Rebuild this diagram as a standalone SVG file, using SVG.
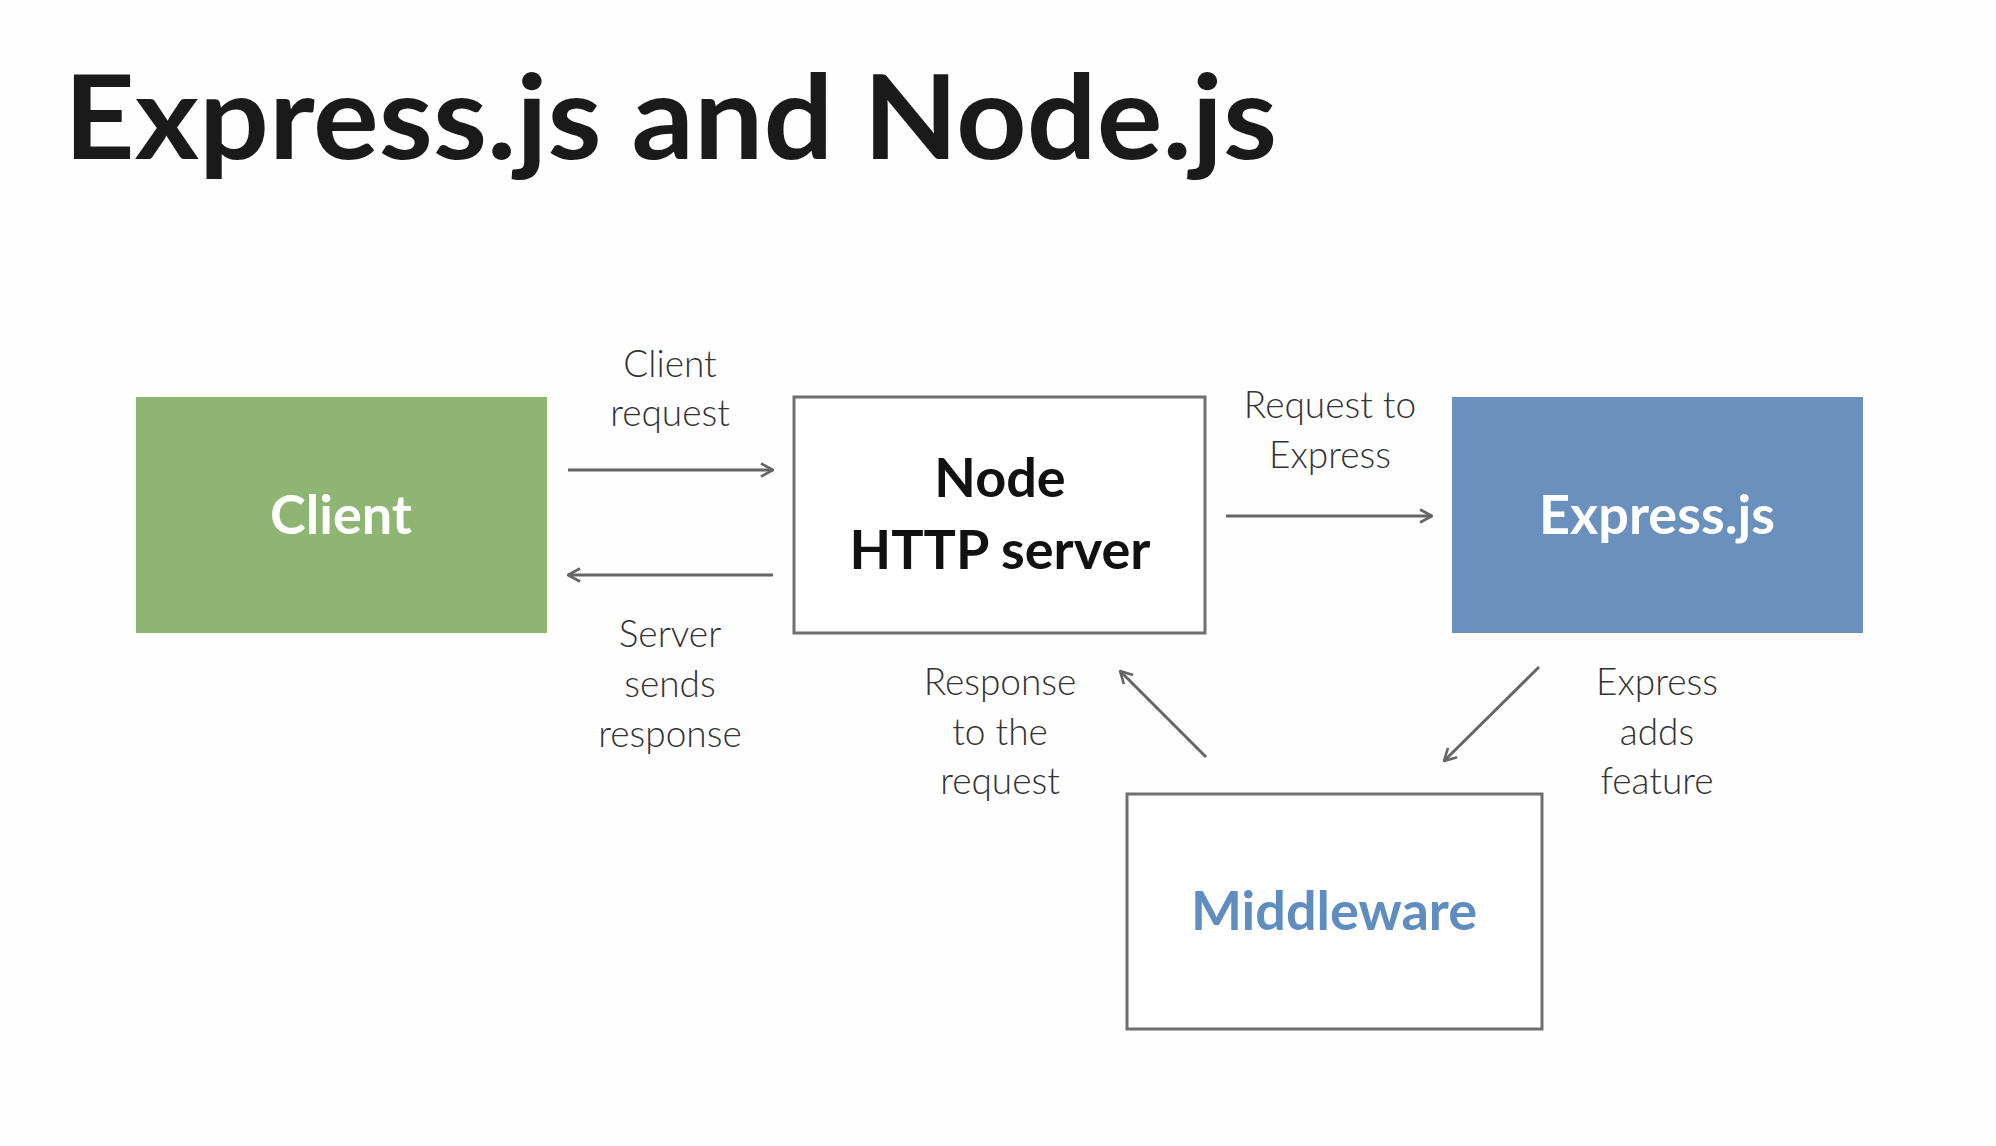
<svg xmlns="http://www.w3.org/2000/svg" width="1996" height="1146" viewBox="0 0 1996 1146">
<defs>
<style>
.title{font-family:Lato,"Open Sans","Liberation Sans",sans-serif;font-weight:700;font-size:116px;fill:#1a1a1a}
.nodeT{font-family:Lato,"Open Sans","Liberation Sans",sans-serif;font-weight:700;font-size:54px;text-anchor:middle}
.lbl{font-family:Lato,"Open Sans","Liberation Sans",sans-serif;font-weight:300;font-size:37px;fill:#333;text-anchor:middle}
.conn{stroke:#666;stroke-width:3;fill:none;marker-end:url(#ah)}
.box{stroke:#6f6f6f;stroke-width:3;fill:#fff}
</style>
<marker id="ah" viewBox="0 0 16 16" refX="15" refY="8" markerWidth="16" markerHeight="16" markerUnits="userSpaceOnUse" orient="auto">
<path d="M3,1.5 L15,8 L3,14.5" fill="none" stroke="#666" stroke-width="2.6"/>
</marker>
</defs>
<rect width="1996" height="1146" fill="#fefefe"/>
<text class="title" x="64" y="159" textLength="1213" lengthAdjust="spacingAndGlyphs">Express.js and Node.js</text>

<g id="client">
<rect x="136" y="397" width="411" height="236" fill="#8fb573"/>
<text class="nodeT" x="341" y="534" fill="#fff">Client</text>
</g>
<g id="node-http-server">
<rect class="box" x="794" y="397" width="411" height="236"/>
<text class="nodeT" x="1000" y="497" fill="#111">Node</text>
<text class="nodeT" x="1000" y="569" fill="#111">HTTP server</text>
</g>
<g id="expressjs">
<rect x="1452" y="397" width="411" height="236" fill="#6a91bd"/>
<text class="nodeT" x="1657" y="534" fill="#fff">Express.js</text>
</g>
<g id="middleware">
<rect class="box" x="1127" y="794" width="415" height="235"/>
<text class="nodeT" x="1334" y="930" fill="#5f8dbf">Middleware</text>
</g>

<g id="connectors">
<line class="conn" x1="568" y1="470" x2="773" y2="470"/>
<line class="conn" x1="773" y1="575" x2="568" y2="575"/>
<line class="conn" x1="1226" y1="516" x2="1432" y2="516"/>
<line class="conn" x1="1206" y1="757" x2="1120" y2="671"/>
<line class="conn" x1="1539" y1="667" x2="1444" y2="761"/>
</g>

<g id="labels">
<text class="lbl" x="670" y="377">Client</text>
<text class="lbl" x="670" y="426">request</text>
<text class="lbl" x="1330" y="418">Request to</text>
<text class="lbl" x="1330" y="468">Express</text>
<text class="lbl" x="670" y="647">Server</text>
<text class="lbl" x="670" y="697">sends</text>
<text class="lbl" x="670" y="747">response</text>
<text class="lbl" x="1000" y="695">Response</text>
<text class="lbl" x="1000" y="745">to the</text>
<text class="lbl" x="1000" y="794">request</text>
<text class="lbl" x="1657" y="695">Express</text>
<text class="lbl" x="1657" y="745">adds</text>
<text class="lbl" x="1657" y="794">feature</text>
</g>
</svg>
